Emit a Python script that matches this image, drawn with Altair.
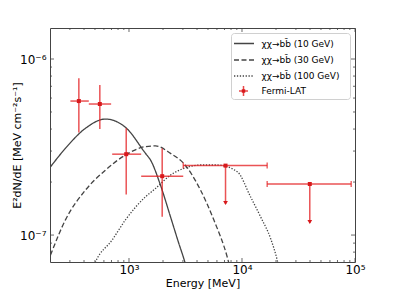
import altair as alt
import pandas as pd

# ---- Fermi-LAT flux points (MeV, MeV cm^-2 s^-1) ----
pt_e = [360, 552, 945, 1967]
pt_e_lo = [303, 441, 710, 1282]
pt_e_hi = [441, 695, 1282, 3020]
pt_f = [5.77e-7, 5.55e-7, 2.88e-7, 2.16e-7]
pt_f_lo = [3.83e-7, 4.00e-7, 1.70e-7, 1.27e-7]
pt_f_hi = [7.77e-7, 7.11e-7, 4.04e-7, 3.10e-7]

# ---- upper limits ----
ul_e = [7150, 39800]
ul_e_lo = [3020, 16700]
ul_e_hi = [16700, 92500]
ul_f = [2.48e-7, 1.95e-7]
ul_f_tip = [1.50e-7, 1.17e-7]

# ---- model curves ----
m10_e = [202, 274, 412, 620, 931, 1400, 1550, 1900, 2330, 2740, 3120, 3250]
m10_f = [2.44e-7, 3.11e-7, 4.04e-7, 4.56e-7, 4.09e-7, 2.91e-7, 2.67e-7,
         1.92e-7, 1.27e-7, 9.1e-8, 7.03e-8, 6.4e-8]
m30_e = [202, 274, 412, 620, 931, 1400, 1718, 2330, 3055, 4295, 5630, 7390, 7900]
m30_f = [7.69e-8, 1.22e-7, 1.80e-7, 2.34e-7, 2.85e-7, 3.18e-7, 3.21e-7,
         2.91e-7, 2.55e-7, 1.80e-7, 1.22e-7, 7.53e-8, 6.4e-8]
m100_e = [480, 506, 710, 931, 1400, 1718, 2330, 3055, 4295, 6040, 9080,
          11900, 14600, 17900, 20500, 21300]
m100_f = [6.5e-8, 7.05e-8, 9.38e-8, 1.22e-7, 1.65e-7, 1.84e-7, 2.19e-7,
          2.39e-7, 2.50e-7, 2.50e-7, 2.29e-7, 1.65e-7, 1.27e-7, 9.57e-8,
          7.21e-8, 6.5e-8]

# ---- axis ticks ----
x_major = [1e3, 1e4, 1e5]
x_minor = [300, 400, 500, 600, 700, 800, 900,
           2000, 3000, 4000, 5000, 6000, 7000, 8000, 9000,
           20000, 30000, 40000, 50000, 60000, 70000, 80000, 90000]
y_major = [1e-7, 1e-6]
y_minor = [8e-8, 9e-8, 2e-7, 3e-7, 4e-7, 5e-7, 6e-7, 7e-7, 8e-7, 9e-7]

legend_labels = ["χχ→bb̄ (10 GeV)", "χχ→bb̄ (30 GeV)", "χχ→bb̄ (100 GeV)", "Fermi-LAT"]

W, H = 305, 234
RED = "#e31a1c"
GRAY = "#444444"
FONT = "DejaVu Sans"

xscale = alt.Scale(type="log", domain=[200, 1e5], nice=False)
yscale = alt.Scale(type="log", domain=[7.03e-8, 1.5e-6], nice=False, zero=False)

xaxis = alt.Axis(values=x_major, ticks=False, grid=False, domain=False,
                 labelExpr="datum.value == 1000 ? '10³' : datum.value == 10000 ? '10⁴' : '10⁵'",
                 labelFontSize=12, titleFontSize=11, labelPadding=2, titlePadding=2,
                 labelColor="black", titleColor="black", labelFont=FONT, titleFont=FONT,
                 titleFontWeight="normal", title="Energy [MeV]", labelFlush=False)
yaxis = alt.Axis(values=y_major, ticks=False, grid=False, domain=False,
                 labelExpr="datum.value < 5e-7 ? '10⁻⁷' : '10⁻⁶'",
                 labelFontSize=12, titleFontSize=11, labelPadding=4,
                 titleAngle=-90, titleAlign="center", titleBaseline="middle",
                 titleX=-33, titleY=H / 2,
                 labelColor="black", titleColor="black", labelFont=FONT, titleFont=FONT,
                 titleFontWeight="normal", title="E²dN/dE [MeV cm⁻²s⁻¹]", labelFlush=False)


def X(field):
    return alt.X(field, type="quantitative", scale=xscale, axis=xaxis)


def Y(field):
    return alt.Y(field, type="quantitative", scale=yscale, axis=yaxis)


layers = []

# model curves
for es, fs, dash in [(m10_e, m10_f, [1, 0]), (m30_e, m30_f, [5, 2.5]), (m100_e, m100_f, [1.3, 1.6])]:
    df = pd.DataFrame({"E": es, "F": fs})
    layers.append(
        alt.Chart(df).mark_line(color=GRAY, strokeWidth=1.3, strokeDash=dash,
                                interpolate="monotone", clip=True)
        .encode(x=X("E"), y=Y("F"))
    )

# data points
pts = pd.DataFrame({"E": pt_e, "Elo": pt_e_lo, "Ehi": pt_e_hi,
                    "F": pt_f, "Flo": pt_f_lo, "Fhi": pt_f_hi})
layers.append(alt.Chart(pts).mark_rule(color=RED, strokeWidth=1.5, opacity=0.75)
              .encode(x=X("E"), y=Y("Flo"), y2="Fhi"))
layers.append(alt.Chart(pts).mark_rule(color=RED, strokeWidth=1.5, opacity=0.75)
              .encode(x=X("Elo"), x2="Ehi", y=Y("F")))
layers.append(alt.Chart(pts).mark_point(color="#d7191c", shape="square", filled=True,
                                        size=16, opacity=1)
              .encode(x=X("E"), y=Y("F")))

# upper limits
uls = pd.DataFrame({"E": ul_e, "Elo": ul_e_lo, "Ehi": ul_e_hi, "F": ul_f, "Ft": ul_f_tip})
layers.append(alt.Chart(uls).mark_rule(color=RED, strokeWidth=1.5, opacity=0.75)
              .encode(x=X("Elo"), x2="Ehi", y=Y("F")))
layers.append(alt.Chart(uls).mark_rule(color=RED, strokeWidth=1.5, opacity=0.75)
              .encode(x=X("E"), y=Y("F"), y2="Ft"))
ends = pd.DataFrame({"E": ul_e_lo + ul_e_hi, "F": ul_f + ul_f})
layers.append(alt.Chart(ends).mark_tick(color=RED, orient="vertical", size=6,
                                        thickness=1.3, opacity=0.75)
              .encode(x=X("E"), y=Y("F")))
layers.append(alt.Chart(uls).mark_point(color="#d7191c", shape="triangle-down",
                                        filled=True, size=22, opacity=1, yOffset=-1)
              .encode(x=X("E"), y=Y("Ft")))
layers.append(alt.Chart(uls).mark_point(color="#d7191c", shape="square", filled=True,
                                        size=16, opacity=1)
              .encode(x=X("E"), y=Y("F")))

# inward ticks (all four sides)
for vals, ln in [(x_major, 4), (x_minor, 2)]:
    d = pd.DataFrame({"E": vals})
    layers.append(alt.Chart(d).mark_rule(color=GRAY, strokeWidth=0.8)
                  .encode(x=X("E"), y=alt.value(H), y2=alt.value(H - ln)))
    layers.append(alt.Chart(d).mark_rule(color=GRAY, strokeWidth=0.8)
                  .encode(x=X("E"), y=alt.value(0), y2=alt.value(ln)))
for vals, ln in [(y_major, 4), (y_minor, 2)]:
    d = pd.DataFrame({"F": vals})
    layers.append(alt.Chart(d).mark_rule(color=GRAY, strokeWidth=0.8)
                  .encode(y=Y("F"), x=alt.value(0), x2=alt.value(ln)))
    layers.append(alt.Chart(d).mark_rule(color=GRAY, strokeWidth=0.8)
                  .encode(y=Y("F"), x=alt.value(W), x2=alt.value(W - ln)))

# legend (drawn manually)
one = pd.DataFrame({"k": [0]})
layers.append(alt.Chart(one).mark_rect(fill="white", stroke="#cccccc", strokeWidth=1,
                                       cornerRadius=3, opacity=0.9)
              .encode(x=alt.value(181.5), x2=alt.value(300.5),
                      y=alt.value(5.5), y2=alt.value(71.5)))
leg_y = [15.5, 32, 48, 63]
for i, dash in enumerate([[1, 0], [5, 2.5], [1.3, 1.6]]):
    layers.append(alt.Chart(one).mark_rule(color=GRAY, strokeWidth=1.3, strokeDash=dash)
                  .encode(x=alt.value(184), x2=alt.value(204),
                          y=alt.value(leg_y[i])))
for i, lab in enumerate(legend_labels):
    layers.append(alt.Chart(pd.DataFrame({"t": [lab]})).mark_text(
        align="left", baseline="middle", fontSize=9, font=FONT, color="black")
        .encode(x=alt.value(211.5), y=alt.value(leg_y[i]), text="t:N"))
layers.append(alt.Chart(one).mark_rule(color=RED, strokeWidth=1.5, opacity=0.8)
              .encode(x=alt.value(189), x2=alt.value(198), y=alt.value(leg_y[3])))
layers.append(alt.Chart(one).mark_rule(color=RED, strokeWidth=1.5, opacity=0.8)
              .encode(x=alt.value(193.5), y=alt.value(leg_y[3] - 5), y2=alt.value(leg_y[3] + 5)))
layers.append(alt.Chart(one).mark_point(color="#d7191c", shape="square", filled=True,
                                        size=12, opacity=1)
              .encode(x=alt.value(193.5), y=alt.value(leg_y[3])))

chart = alt.layer(*layers).properties(
    width=W, height=H,
    autosize=alt.AutoSizeParams(type="none"),
    padding={"left": 42, "top": 20, "right": 32, "bottom": 32},
    background="white",
).configure_view(stroke=GRAY, strokeWidth=1)

chart.save("out.html", embed_options={"renderer": "svg", "actions": False})
